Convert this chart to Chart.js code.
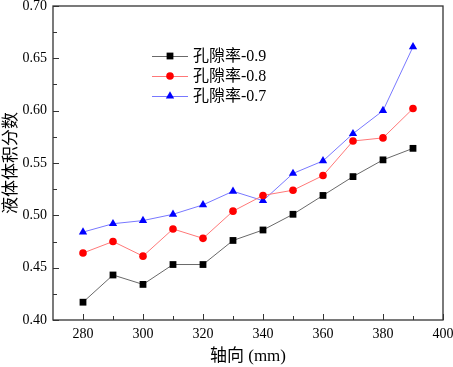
<!DOCTYPE html>
<html>
<head>
<meta charset="utf-8">
<script src="https://cdn.jsdelivr.net/npm/chart.js@4"></script>
<style>
  html, body { margin: 0; padding: 0; background: #fff; }
  #wrap { width: 453px; height: 367px; }
</style>
</head>
<body>
<div id="wrap"><canvas id="chart" width="453" height="367"></canvas></div>
<script>
// ==================== Data ====================
const axial = [280, 290, 300, 310, 320, 330, 340, 350, 360, 370, 380, 390];
const seriesNames = ['孔隙率-0.9', '孔隙率-0.8', '孔隙率-0.7'];
const por09 = [0.417, 0.443, 0.434, 0.453, 0.453, 0.476, 0.486, 0.501, 0.519, 0.537, 0.553, 0.564];
const por08 = [0.464, 0.475, 0.461, 0.487, 0.478, 0.504, 0.519, 0.524, 0.538, 0.571, 0.574, 0.602];
const por07 = [0.484, 0.492, 0.495, 0.501, 0.510, 0.523, 0.514, 0.540, 0.552, 0.578, 0.600, 0.661];
const xTicks = [280, 300, 320, 340, 360, 380, 400];
const xMinor = [290, 310, 330, 350, 370, 390];
const yTicks = [0.40, 0.45, 0.50, 0.55, 0.60, 0.65, 0.70];
const yMinor = [0.425, 0.475, 0.525, 0.575, 0.625, 0.675];

const latin = "'Liberation Serif', 'Times New Roman', serif";
const mixed = "'Liberation Serif', 'Noto Sans CJK SC', serif";

function pts(vals) {
  return axial.map((x, i) => ({ x: x, y: vals[i] }));
}

// ==================== Plugins ====================
// frame + inward ticks
const frameTicks = {
  id: 'frameTicks',
  afterDraw(chart) {
    const c = chart.ctx, a = chart.chartArea;
    const xs = chart.scales.x, ys = chart.scales.y;
    c.save();
    c.strokeStyle = '#333';
    c.lineWidth = 1.3;
    c.strokeRect(a.left, a.top, a.right - a.left, a.bottom - a.top);
    c.lineWidth = 1;
    c.beginPath();
    xTicks.forEach(v => { const p = Math.round(xs.getPixelForValue(v)) + 0.5; c.moveTo(p, a.bottom); c.lineTo(p, a.bottom - 6); });
    xMinor.forEach(v => { const p = Math.round(xs.getPixelForValue(v)) + 0.5; c.moveTo(p, a.bottom); c.lineTo(p, a.bottom - 4); });
    yTicks.forEach(v => { const p = Math.round(ys.getPixelForValue(v)) + 0.5; c.moveTo(a.left, p); c.lineTo(a.left + 6, p); });
    yMinor.forEach(v => { const p = Math.round(ys.getPixelForValue(v)) + 0.5; c.moveTo(a.left, p); c.lineTo(a.left + 4, p); });
    c.stroke();
    c.restore();
  }
};

// legend inside plot: line + marker + label
const innerLegend = {
  id: 'innerLegend',
  afterDraw(chart) {
    const c = chart.ctx;
    c.save();
    chart.data.datasets.forEach((ds, i) => {
      const y = 56 + i * 20;
      c.strokeStyle = ds.borderColor;
      c.lineWidth = 1;
      c.beginPath();
      c.moveTo(152, y + 0.5);
      c.lineTo(188, y + 0.5);
      c.stroke();
      c.fillStyle = ds.pointBackgroundColor;
      c.strokeStyle = ds.pointBackgroundColor;
      Chart.helpers.drawPoint(c, { pointStyle: ds.pointStyle, radius: ds.pointRadius, borderWidth: 0, rotation: 0 }, 170, y);
      c.fillStyle = '#000';
      c.font = '16px ' + mixed;
      c.textBaseline = 'middle';
      c.fillText(ds.label, 193, y + 1);
    });
    c.restore();
  }
};

// ==================== Chart ====================
const chart = new Chart(document.getElementById('chart'), {
  type: 'line',
  data: {
    datasets: [
      { label: seriesNames[0], data: pts(por09), borderColor: 'rgb(105,105,105)', borderWidth: 1,
        pointStyle: 'rect', pointRadius: 4.8, pointBackgroundColor: '#000', pointBorderWidth: 0 },
      { label: seriesNames[1], data: pts(por08), borderColor: 'rgb(255,120,120)', borderWidth: 1,
        pointStyle: 'circle', pointRadius: 3.8, pointBackgroundColor: '#ff0000', pointBorderWidth: 0 },
      { label: seriesNames[2], data: pts(por07), borderColor: 'rgb(120,120,255)', borderWidth: 1,
        pointStyle: 'triangle', pointRadius: 4.8, pointBackgroundColor: '#0000ff', pointBorderWidth: 0 }
    ]
  },
  options: {
    responsive: false,
    animation: false,
    layout: { padding: { left: 0, right: 10, top: 6, bottom: 0 } },
    plugins: { legend: { display: false }, tooltip: { enabled: false } },
    scales: {
      x: {
        type: 'linear', min: 270, max: 400,
        afterBuildTicks: s => { s.ticks = xTicks.map(v => ({ value: v })); },
        afterFit: s => { s.height = 47; s.paddingLeft = 0; s.paddingRight = 0; },
        grid: { display: false, drawTicks: false },
        border: { display: false },
        ticks: { color: '#000', font: { family: latin, size: 14 }, padding: 6, maxRotation: 0 },
        title: { display: true, text: '轴向 (mm)', color: '#000', font: { family: mixed, size: 17 }, padding: { top: 4, bottom: 0 } }
      },
      y: {
        min: 0.40, max: 0.70,
        afterBuildTicks: s => { s.ticks = yTicks.map(v => ({ value: v })); },
        afterFit: s => { s.width = 53; s.paddingTop = 0; s.paddingBottom = 0; },
        grid: { display: false, drawTicks: false },
        border: { display: false },
        ticks: { color: '#000', font: { family: latin, size: 14 }, padding: 6, callback: v => v.toFixed(2) },
        title: { display: true, text: '液体体积分数', color: '#000', font: { family: mixed, size: 17 }, padding: { top: 1, bottom: 0 } }
      }
    }
  },
  plugins: [frameTicks, innerLegend]
});
</script>
</body>
</html>
